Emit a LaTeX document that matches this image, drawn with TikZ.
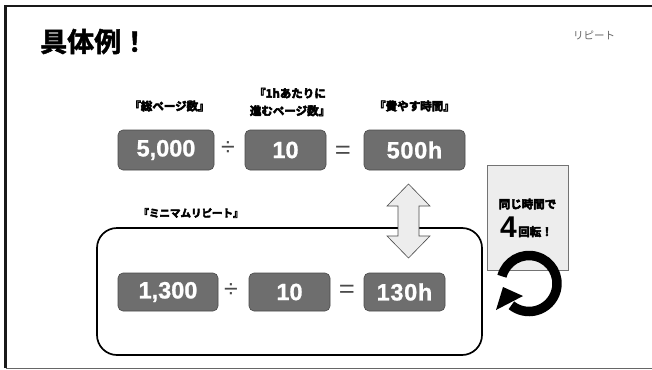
\documentclass[tikz,border=0pt]{standalone}
\usepackage{fontspec}
\setmainfont{Liberation Sans}
\newfontfamily\jpb[FakeBold=4.5]{Noto Sans CJK JP Bold}
\newfontfamily\jpt[FakeBold=1.8]{Noto Sans CJK JP Bold}
\newfontfamily\jpr{Noto Sans CJK JP}
\newfontfamily\numfont[FakeBold=1]{Liberation Sans Bold}
\newfontfamily\numwide[LetterSpace=3,FakeBold=1]{Liberation Sans Bold}
\definecolor{numfill}{HTML}{6E6E6E}
\definecolor{numedge}{HTML}{4A4A4A}
\definecolor{lightfill}{HTML}{EDEDED}
\definecolor{opcol}{HTML}{4A4A4A}
\tikzset{
  numbox/.style={draw=numedge,line width=0.6pt,fill=numfill,rounded corners=5pt,inner sep=0pt,text=white,font=\fontsize{23.5}{24}\selectfont\numfont},
  oplabel/.style={text=opcol,inner sep=0pt,font=\fontsize{25}{26}\selectfont},
  heading/.style={inner sep=0pt,align=center,font=\fontsize{11.5}{17.5}\selectfont\jpb},
}
\begin{document}
\begin{tikzpicture}[x=1pt,y=-1pt]
\useasboundingbox (0,0) rectangle (652,369);
\fill[white] (0,0) rectangle (652,369);
% frame
\draw[line width=2.2pt,black!90] (5.5,368) -- (5.5,6) -- (652,6);
\draw[line width=1pt,black!60] (5.5,368.3) -- (652,368.3);
% titles
\node[inner sep=0pt,anchor=west,font=\fontsize{27}{30}\selectfont\jpt] (title) at (40,41.5) {具体例！};
\node[inner sep=0pt,text=black!60,font=\fontsize{10.5}{12}\selectfont\jpr] (tag) at (594,35) {リピート};
% top row
\node[heading] (h1) at (169.5,106) {『総ページ数』};
\node[heading] (h2) at (290,102) {『1hあたりに\\進むページ数』};
\node[heading] (h3) at (414.5,106) {『費やす時間』};
\node[numbox,minimum width=96pt,minimum height=40pt] (a1) at (166,150) {\raisebox{-1pt}{5,000}};
\node[oplabel] (d1) at (228,149) {÷};
\node[numbox,minimum width=81pt,minimum height=40pt] (a2) at (285.5,150) {\raisebox{-1pt}{10}};
\node[oplabel,xscale=1.1] (e1) at (343,152) {=};
\node[numbox,minimum width=101pt,minimum height=40pt] (a3) at (414.5,150) {\raisebox{-1pt}{\numwide 500h}};
% lower frame
\node[inner sep=0pt,draw=black,line width=1.7pt,rounded corners=20pt,minimum width=385pt,minimum height=127pt] (frame) at (289.5,291.5) {};
\node[heading,font=\fontsize{10.5}{12}\selectfont\jpb] (h4) at (191,213) {『ミニマムリピート』};
\node[numbox,minimum width=100pt,minimum height=38pt] (b1) at (168,292) {\raisebox{-1.5pt}{1,300}};
\node[oplabel] (d2) at (231,291) {÷};
\node[numbox,minimum width=81pt,minimum height=38pt] (b2) at (289.5,292) {\raisebox{-1.5pt}{10}};
\node[oplabel,xscale=1.1] (e2) at (347,291) {=};
\node[numbox,minimum width=81pt,minimum height=38pt] (b3) at (404.5,292) {\raisebox{-1.5pt}{\numwide 130h}};
% double arrow
\draw[draw=black!70,line width=0.6pt,fill=lightfill]
  (408.5,184) -- (430,206) -- (419,206) -- (419,236) -- (430,236) -- (408.5,258)
  -- (387,236) -- (398,236) -- (398,206) -- (387,206) -- cycle;
% note box
\node[draw=black!55,line width=0.7pt,fill=lightfill,inner sep=0pt,minimum width=81pt,minimum height=105pt] (note) at (527.5,217.5) {};
\node[heading,font=\fontsize{11.5}{12}\selectfont\jpb] (n1) at (527.5,204) {同じ時間で};
\node[inner sep=0pt,anchor=base,font=\fontsize{30}{32}\selectfont\bfseries] (n2) at (508.5,237) {4};
\node[inner sep=0pt,anchor=base west,font=\fontsize{11.5}{12}\selectfont\jpb] (n3) at (518,236) {回転！};
% rotation arrow
\draw[line width=9.5pt,black] (529,283.5) ++(195:28) arc[start angle=195,end angle=489,radius=28];
\fill[black] (496,310) -- (503,287) -- (523,296) -- cycle;
\end{tikzpicture}
\end{document}
